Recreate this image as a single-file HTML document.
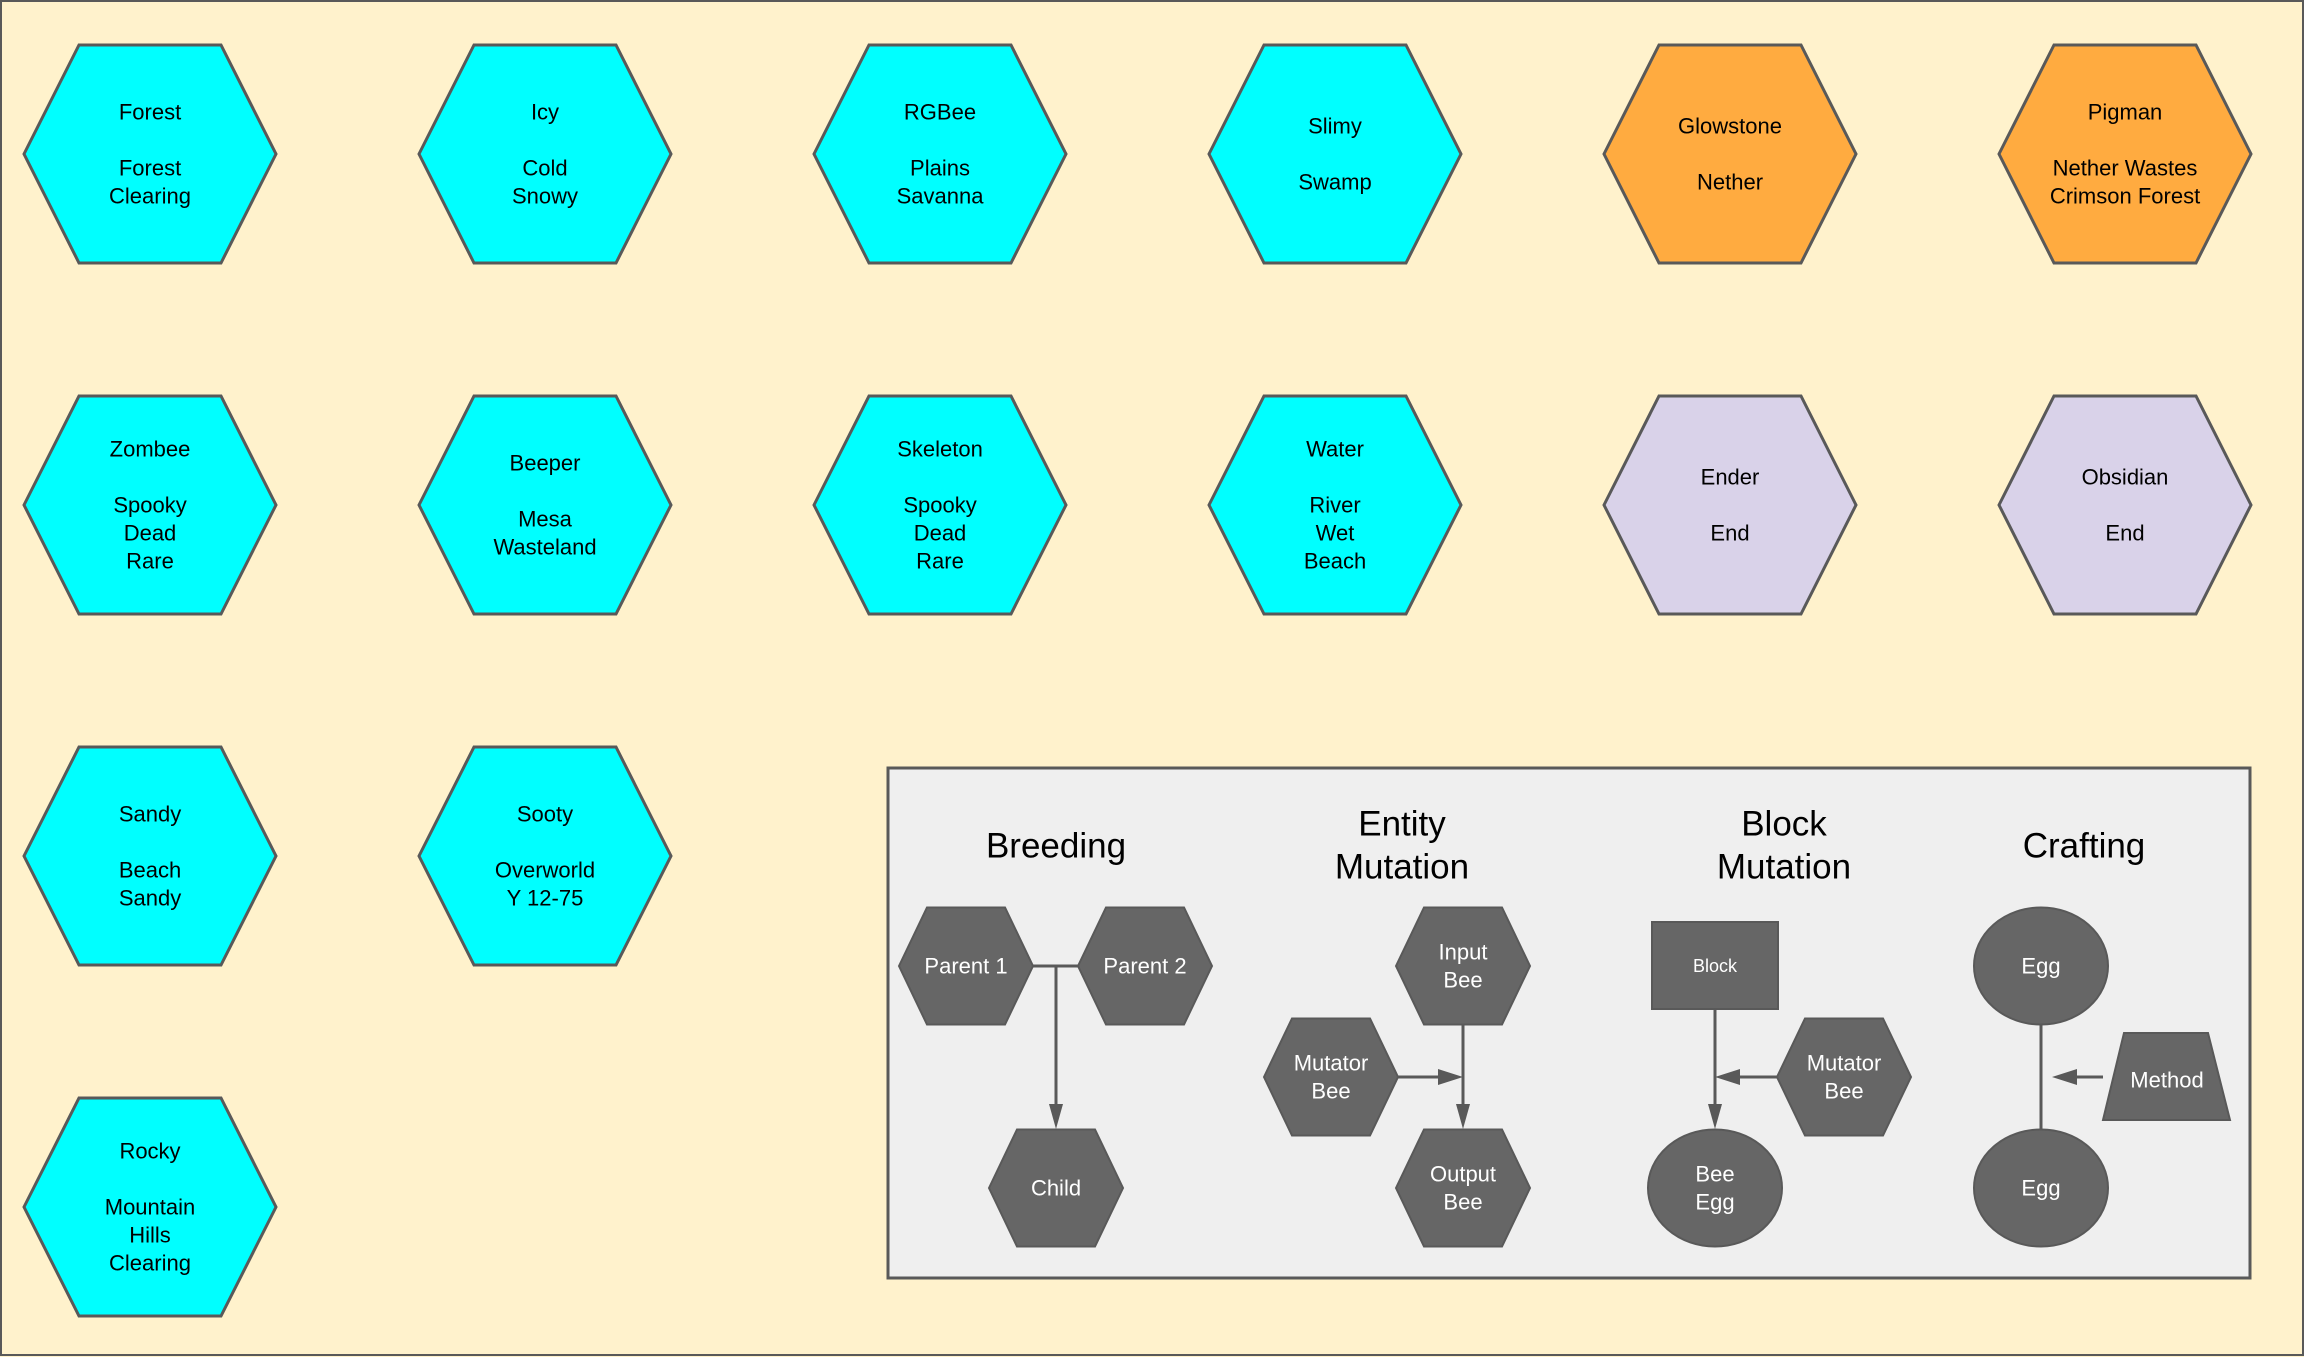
<!DOCTYPE html>
<html><head><meta charset="utf-8"><style>
html,body{margin:0;padding:0;background:#fff2cc;}
svg{display:block;}
text{font-family:"Liberation Sans",sans-serif;}
</style></head><body>
<svg width="2304" height="1357" viewBox="0 0 2304 1357" xmlns="http://www.w3.org/2000/svg">
<rect x="1" y="1" width="2302" height="1354" fill="#fff2cc" stroke="#595959" stroke-width="2"/>
<defs>
<g id="hx"><polygon points="-126,0 -71,-109 71,-109 126,0 71,109 -71,109" stroke="#595959" stroke-width="3"/></g>
<g id="sh"><polygon points="-67,0 -39,-58.5 39,-58.5 67,0 39,58.5 -39,58.5" fill="#666666" stroke="#595959" stroke-width="2"/></g>
</defs>
<g font-size="22" text-anchor="middle" fill="#000">
<g transform="translate(150,154)"><use href="#hx" fill="#00ffff"/><text y="-42" dominant-baseline="central">Forest</text><text y="14" dominant-baseline="central">Forest</text><text y="42" dominant-baseline="central">Clearing</text></g>
<g transform="translate(545,154)"><use href="#hx" fill="#00ffff"/><text y="-42" dominant-baseline="central">Icy</text><text y="14" dominant-baseline="central">Cold</text><text y="42" dominant-baseline="central">Snowy</text></g>
<g transform="translate(940,154)"><use href="#hx" fill="#00ffff"/><text y="-42" dominant-baseline="central">RGBee</text><text y="14" dominant-baseline="central">Plains</text><text y="42" dominant-baseline="central">Savanna</text></g>
<g transform="translate(1335,154)"><use href="#hx" fill="#00ffff"/><text y="-28" dominant-baseline="central">Slimy</text><text y="28" dominant-baseline="central">Swamp</text></g>
<g transform="translate(1730,154)"><use href="#hx" fill="#ffab40"/><text y="-28" dominant-baseline="central">Glowstone</text><text y="28" dominant-baseline="central">Nether</text></g>
<g transform="translate(2125,154)"><use href="#hx" fill="#ffab40"/><text y="-42" dominant-baseline="central">Pigman</text><text y="14" dominant-baseline="central">Nether Wastes</text><text y="42" dominant-baseline="central">Crimson Forest</text></g>
<g transform="translate(150,505)"><use href="#hx" fill="#00ffff"/><text y="-56" dominant-baseline="central">Zombee</text><text y="0" dominant-baseline="central">Spooky</text><text y="28" dominant-baseline="central">Dead</text><text y="56" dominant-baseline="central">Rare</text></g>
<g transform="translate(545,505)"><use href="#hx" fill="#00ffff"/><text y="-42" dominant-baseline="central">Beeper</text><text y="14" dominant-baseline="central">Mesa</text><text y="42" dominant-baseline="central">Wasteland</text></g>
<g transform="translate(940,505)"><use href="#hx" fill="#00ffff"/><text y="-56" dominant-baseline="central">Skeleton</text><text y="0" dominant-baseline="central">Spooky</text><text y="28" dominant-baseline="central">Dead</text><text y="56" dominant-baseline="central">Rare</text></g>
<g transform="translate(1335,505)"><use href="#hx" fill="#00ffff"/><text y="-56" dominant-baseline="central">Water</text><text y="0" dominant-baseline="central">River</text><text y="28" dominant-baseline="central">Wet</text><text y="56" dominant-baseline="central">Beach</text></g>
<g transform="translate(1730,505)"><use href="#hx" fill="#d9d2e9"/><text y="-28" dominant-baseline="central">Ender</text><text y="28" dominant-baseline="central">End</text></g>
<g transform="translate(2125,505)"><use href="#hx" fill="#d9d2e9"/><text y="-28" dominant-baseline="central">Obsidian</text><text y="28" dominant-baseline="central">End</text></g>
<g transform="translate(150,856)"><use href="#hx" fill="#00ffff"/><text y="-42" dominant-baseline="central">Sandy</text><text y="14" dominant-baseline="central">Beach</text><text y="42" dominant-baseline="central">Sandy</text></g>
<g transform="translate(545,856)"><use href="#hx" fill="#00ffff"/><text y="-42" dominant-baseline="central">Sooty</text><text y="14" dominant-baseline="central">Overworld</text><text y="42" dominant-baseline="central">Y 12-75</text></g>
<g transform="translate(150,1207)"><use href="#hx" fill="#00ffff"/><text y="-56" dominant-baseline="central">Rocky</text><text y="0" dominant-baseline="central">Mountain</text><text y="28" dominant-baseline="central">Hills</text><text y="56" dominant-baseline="central">Clearing</text></g>
</g>

<rect x="888" y="768" width="1362" height="510" fill="#efefef" stroke="#595959" stroke-width="3"/>
<g font-size="35" text-anchor="middle" fill="#000">
<text x="1056" y="846" dominant-baseline="central">Breeding</text>
<text x="1402" y="824" dominant-baseline="central">Entity</text>
<text x="1402" y="867" dominant-baseline="central">Mutation</text>
<text x="1784" y="824" dominant-baseline="central">Block</text>
<text x="1784" y="867" dominant-baseline="central">Mutation</text>
<text x="2084" y="846" dominant-baseline="central">Crafting</text>
</g>
<g stroke="#595959" stroke-width="3" fill="none">
<line x1="1032" y1="966" x2="1078" y2="966"/>
<line x1="1056" y1="966" x2="1056" y2="1106"/>
<line x1="1463" y1="1024" x2="1463" y2="1106"/>
<line x1="1398" y1="1077" x2="1440" y2="1077"/>
<line x1="1715" y1="1009" x2="1715" y2="1106"/>
<line x1="1777" y1="1077" x2="1738" y2="1077"/>
<line x1="2041" y1="1024" x2="2041" y2="1129"/>
<line x1="2103" y1="1077" x2="2075" y2="1077"/>
</g>
<g fill="#595959">
<polygon points="1049,1104 1063,1104 1056,1129"/>
<polygon points="1456,1104 1470,1104 1463,1129"/>
<polygon points="1708,1104 1722,1104 1715,1129"/>
<polygon points="1438,1069 1438,1085 1463,1077"/>
<polygon points="1740,1069 1740,1085 1715,1077"/>
<polygon points="2077,1069 2077,1085 2052,1077"/>
</g>
<g font-size="22" text-anchor="middle" fill="#fff">
<g transform="translate(966,966)"><use href="#sh"/><text dominant-baseline="central">Parent 1</text></g>
<g transform="translate(1145,966)"><use href="#sh"/><text dominant-baseline="central">Parent 2</text></g>
<g transform="translate(1056,1188)"><use href="#sh"/><text dominant-baseline="central">Child</text></g>
<g transform="translate(1463,966)"><use href="#sh"/><text y="-14" dominant-baseline="central">Input</text><text y="14" dominant-baseline="central">Bee</text></g>
<g transform="translate(1331,1077)"><use href="#sh"/><text y="-14" dominant-baseline="central">Mutator</text><text y="14" dominant-baseline="central">Bee</text></g>
<g transform="translate(1463,1188)"><use href="#sh"/><text y="-14" dominant-baseline="central">Output</text><text y="14" dominant-baseline="central">Bee</text></g>
<rect x="1652" y="922" width="126" height="87" fill="#666666" stroke="#595959" stroke-width="2"/>
<text x="1715" y="966" font-size="18" dominant-baseline="central">Block</text>
<ellipse cx="1715" cy="1188" rx="67" ry="58.5" fill="#666666" stroke="#595959" stroke-width="2"/>
<text x="1715" y="1174" dominant-baseline="central">Bee</text><text x="1715" y="1202" dominant-baseline="central">Egg</text>
<g transform="translate(1844,1077)"><use href="#sh"/><text y="-14" dominant-baseline="central">Mutator</text><text y="14" dominant-baseline="central">Bee</text></g>
<ellipse cx="2041" cy="966" rx="67" ry="58.5" fill="#666666" stroke="#595959" stroke-width="2"/>
<text x="2041" y="966" dominant-baseline="central">Egg</text>
<ellipse cx="2041" cy="1188" rx="67" ry="58.5" fill="#666666" stroke="#595959" stroke-width="2"/>
<text x="2041" y="1188" dominant-baseline="central">Egg</text>
<polygon points="2124,1033 2208,1033 2230,1120 2103,1120" fill="#666666" stroke="#595959" stroke-width="2"/>
<text x="2167" y="1080" dominant-baseline="central">Method</text>
</g>
</svg>
</body></html>
